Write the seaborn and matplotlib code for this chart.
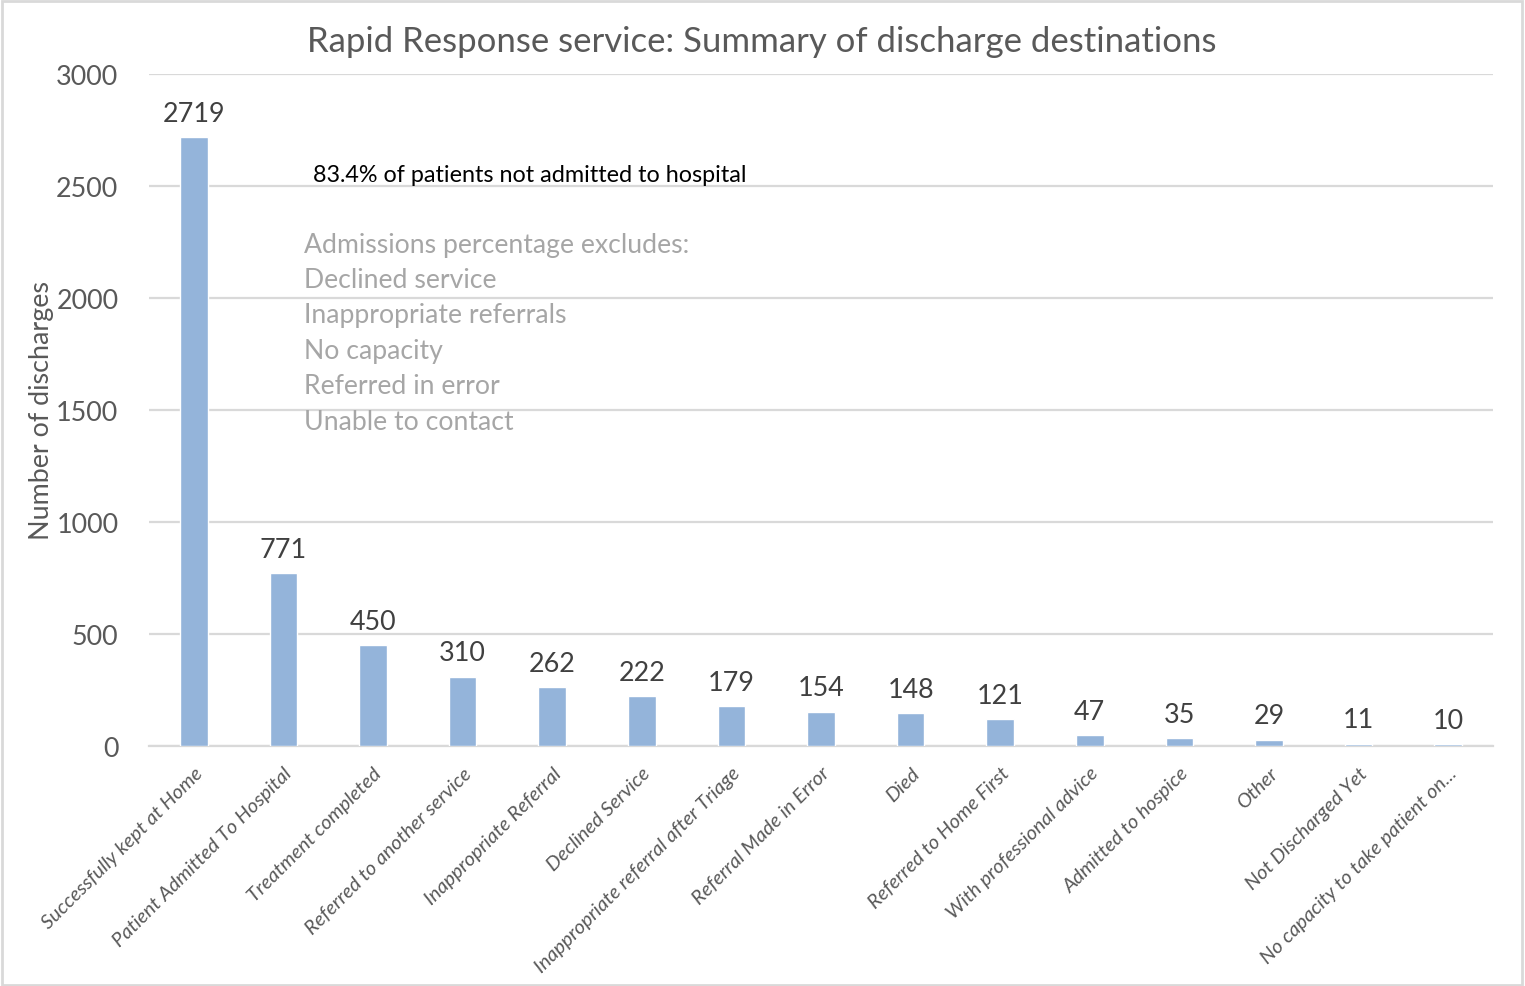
import matplotlib
matplotlib.use("Agg")
import matplotlib.pyplot as plt
import seaborn as sns
import pandas as pd
from matplotlib.patches import Rectangle

destinations = [
    "Successfully kept at Home",
    "Patient Admitted To Hospital",
    "Treatment completed",
    "Referred to another service",
    "Inappropriate Referral",
    "Declined Service",
    "Inappropriate referral after Triage",
    "Referral Made in Error",
    "Died",
    "Referred to Home First",
    "With professional advice",
    "Admitted to hospice",
    "Other",
    "Not Discharged Yet",
    "No capacity to take patient on...",
]
discharges = [2719, 771, 450, 310, 262, 222, 179, 154, 148, 121, 47, 35, 29, 11, 10]
y_ticks = [0, 500, 1000, 1500, 2000, 2500, 3000]

title = "Rapid Response service: Summary of discharge destinations"
headline = "83.4% of patients not admitted to hospital"
exclusion_notes = [
    "Admissions percentage excludes:",
    "Declined service",
    "Inappropriate referrals",
    "No capacity",
    "Referred in error",
    "Unable to contact",
]

sns.set_theme(style="white")
plt.rcParams["font.family"] = ["Lato", "DejaVu Sans"]

W, H = 1525, 987
fig = plt.figure(figsize=(W / 100, H / 100), dpi=100)
ax = fig.add_axes([149 / W, 1 - 747 / H, (1493 - 149) / W, (747 - 75) / H])

df = pd.DataFrame({"destination": destinations, "discharges": discharges})
sns.barplot(data=df, x="destination", y="discharges", color="#94B4DA",
            saturation=1, width=0.31, ax=ax, zorder=3)

ax.set_ylim(0, 3000)
ax.set_xlim(-0.5, len(destinations) - 0.5)
ax.set_yticks(y_ticks)
ax.set_yticklabels([str(t) for t in y_ticks], fontsize=19.4, color="#595959")
ax.tick_params(axis="y", length=0, pad=22)
ax.tick_params(axis="x", length=0, pad=13)
ax.set_xticks(range(len(destinations)))
ax.set_xticklabels(destinations, rotation=45, ha="right", rotation_mode="anchor",
                   fontsize=14.5, style="italic", color="#595959")
ax.yaxis.grid(True, color="#D9D9D9", linewidth=1.6, zorder=0)
ax.set_axisbelow(True)
for side in ["top", "right", "left"]:
    ax.spines[side].set_visible(False)
ax.spines["bottom"].set_color("#D9D9D9")
ax.spines["bottom"].set_linewidth(1.6)

ax.set_xlabel("")
ax.set_ylabel("Number of discharges", fontsize=19.4, color="#595959")
ax.yaxis.set_label_coords(-0.071, 0.5)

for i, v in enumerate(discharges):
    ax.annotate(str(v), (i, v), xytext=(0, 8), textcoords="offset points",
                ha="center", va="bottom", fontsize=19.4, color="#404040")

fig.text(762 / W, 1 - 42 / H, title, ha="center", va="center",
         fontsize=25, color="#595959")
fig.text(313 / W, 1 - 175 / H, headline, ha="left", va="center",
         fontsize=16.8, color="#000000")
for k, line in enumerate(exclusion_notes):
    fig.text(304 / W, 1 - (245 + 35.4 * k) / H, line, ha="left", va="center",
             fontsize=19.2, color="#A6A6A6")

fig.patches.append(Rectangle((0.001, 0.001), 0.997, 0.997, transform=fig.transFigure,
                             fill=False, edgecolor="#D9D9D9", linewidth=2))

fig.savefig("out.png", dpi=100, facecolor="white")
